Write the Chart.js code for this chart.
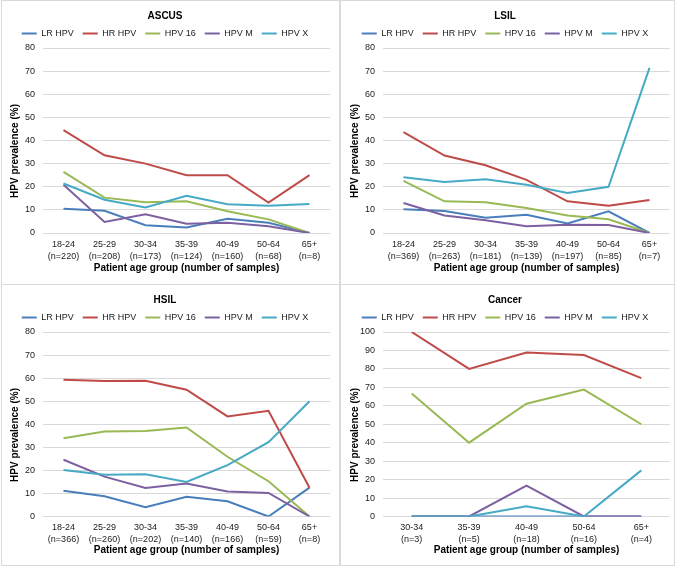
<!DOCTYPE html>
<html>
<head>
<meta charset="utf-8">
<script src="https://cdn.jsdelivr.net/npm/chart.js@4.4.1/dist/chart.umd.min.js"></script>
<style>
    body { margin: 0; background: #fff; }
    #fig { position: relative; width: 680px; height: 569px; }
    #fig canvas { position: absolute; }
    .ln { position: absolute; background: #d9d9d9; z-index: 2; }
</style>
</head>
<body>
<div id="fig">
    <canvas id="chartAscus" width="340" height="284" style="left:0;top:0"></canvas>
    <canvas id="chartLsil" width="336" height="284" style="left:340px;top:0"></canvas>
    <canvas id="chartHsil" width="340" height="282" style="left:0;top:284px"></canvas>
    <canvas id="chartCancer" width="336" height="282" style="left:340px;top:284px"></canvas>
    <div class="ln" style="left:1px;top:0;width:1px;height:566px"></div>
    <div class="ln" style="left:339px;top:0;width:2px;height:566px"></div>
    <div class="ln" style="left:674px;top:0;width:1px;height:566px"></div>
    <div class="ln" style="left:1px;top:0;width:674px;height:1px"></div>
    <div class="ln" style="left:1px;top:284px;width:674px;height:1px"></div>
    <div class="ln" style="left:1px;top:565px;width:674px;height:1px"></div>
</div>
<script>
// series names + colours (Excel 2010 style palette)
const seriesNames = ['LR HPV', 'HR HPV', 'HPV 16', 'HPV M', 'HPV X'];
const seriesColors = ['#4a7ebb', '#be4b48', '#98b954', '#7d60a0', '#46aac5'];

// age groups and sample counts
const ageGroups = ['18-24', '25-29', '30-34', '35-39', '40-49', '50-64', '65+'];
const cancerAgeGroups = ['30-34', '35-39', '40-49', '50-64', '65+'];
const ascusN = [220, 208, 173, 124, 160, 68, 8];
const lsilN = [369, 263, 181, 139, 197, 85, 7];
const hsilN = [366, 260, 202, 140, 166, 59, 8];
const cancerN = [3, 5, 18, 16, 4];

// ASCUS prevalence (%)
const ascusLR = [10.5, 9.6, 3.4, 2.4, 6.2, 4.4, 0];
const ascusHR = [44.5, 33.6, 30.0, 25.0, 25.0, 13.2, 25.0];
const ascus16 = [26.4, 15.3, 13.3, 13.7, 9.4, 5.9, 0];
const ascusM = [20.9, 4.8, 8.1, 4.0, 4.4, 2.9, 0];
const ascusX = [21.4, 14.4, 11.0, 16.1, 12.4, 11.8, 12.5];

// LSIL
const lsilLR = [10.3, 9.5, 6.6, 7.9, 4.1, 9.4, 0];
const lsilHR = [43.6, 33.5, 29.3, 23.0, 13.7, 11.8, 14.3];
const lsil16 = [22.5, 13.7, 13.3, 10.8, 7.6, 5.9, 0];
const lsilM = [13.0, 7.6, 5.5, 2.9, 3.6, 3.5, 0];
const lsilX = [24.1, 22.1, 23.2, 20.9, 17.3, 20.0, 71.4];

// HSIL
const hsilLR = [11.2, 8.8, 4.0, 8.6, 6.6, 0, 12.5];
const hsilHR = [59.3, 58.8, 58.9, 55.0, 43.4, 45.8, 12.5];
const hsil16 = [33.9, 36.9, 37.1, 38.6, 25.9, 15.3, 0];
const hsilM = [24.6, 17.3, 12.4, 14.3, 10.8, 10.2, 0];
const hsilX = [20.2, 18.1, 18.3, 15.0, 22.3, 32.2, 50.0];

// Cancer
const cancerLR = [0, 0, 0, 0, 0];
const cancerHR = [100, 80, 88.9, 87.5, 75];
const cancer16 = [66.7, 40, 61.1, 68.8, 50];
const cancerM = [0, 0, 16.7, 0, 0];
const cancerX = [0, 0, 5.6, 0, 25];

const FONT = '"Liberation Sans", Arial, sans-serif';

// y axis title drawn at a fixed spot (Excel centres it lower than the plot)
const yTitlePlugin = {
    id: 'yTitle',
    afterDraw(chart, args, opts) {
        const ctx = chart.ctx;
        ctx.save();
        ctx.translate(opts.x, opts.y);
        ctx.rotate(-Math.PI / 2);
        ctx.font = 'bold 10px ' + FONT;
        ctx.fillStyle = '#000';
        ctx.textAlign = 'center';
        ctx.textBaseline = 'middle';
        ctx.fillText(opts.text, 0, 0);
        ctx.restore();
    }
};

function makeChart(id, title, groups, counts, series, yMax, padRight, plotBottom) {
    const labels = groups.map((g, i) => [g, '(n=' + counts[i] + ')']);
    const datasets = series.map((vals, i) => ({
        label: seriesNames[i],
        data: vals,
        borderColor: seriesColors[i],
        backgroundColor: seriesColors[i],
        borderWidth: 2,
        pointRadius: 0,
        tension: 0,
        order: series.length - i   // later series drawn on top, like Excel
    }));
    const canvas = document.getElementById(id);
    return new Chart(canvas.getContext('2d'), {
        type: 'line',
        data: { labels, datasets },
        plugins: [yTitlePlugin],
        options: {
            responsive: false,
            animation: false,
            layout: { padding: { left: 0, right: padRight, top: 0, bottom: 0 } },
            plugins: {
                title: {
                    display: true, text: title, color: '#000',
                    font: { family: FONT, size: 10, weight: 'bold', lineHeight: 1.2 },
                    padding: { top: 10, bottom: -2 }
                },
                legend: {
                    labels: {
                        color: '#222', boxWidth: 15, boxHeight: 2, padding: 9,
                        font: { family: FONT, size: 9 },
                        sort: (a, b) => a.datasetIndex - b.datasetIndex,
                        generateLabels: chart => Chart.defaults.plugins.legend.labels.generateLabels(chart)
                            .map(l => Object.assign(l, { fillStyle: l.strokeStyle, lineWidth: 0 }))
                    }
                },
                tooltip: { enabled: false },
                yTitle: { text: 'HPV prevalence (%)', x: 15, y: 151 }
            },
            scales: {
                x: {
                    offset: true,
                    grid: { display: false, drawTicks: false },
                    border: { display: false },
                    ticks: { color: '#222', maxRotation: 0, autoSkip: false, padding: 5,
                        font: { family: FONT, size: 9, lineHeight: 1.34 } },
                    title: { display: true, text: 'Patient age group (number of samples)', color: '#000',
                        font: { family: FONT, size: 10, weight: 'bold', lineHeight: 1.2 },
                        padding: { top: 0, bottom: 10 } },
                    afterFit: s => { s.height = canvas.height - plotBottom; }
                },
                y: {
                    min: 0, max: yMax,
                    grid: { color: '#d9d9d9', drawTicks: false },
                    border: { display: false },
                    ticks: { stepSize: 10, color: '#222', padding: 8, font: { family: FONT, size: 9 } },
                    afterFit: s => { s.width = 43; }
                }
            }
        }
    });
}

makeChart('chartAscus', 'ASCUS', ageGroups, ascusN, [ascusLR, ascusHR, ascus16, ascusM, ascusX], 80, 10, 233);
makeChart('chartLsil', 'LSIL', ageGroups, lsilN, [lsilLR, lsilHR, lsil16, lsilM, lsilX], 80, 6, 233);
makeChart('chartHsil', 'HSIL', ageGroups, hsilN, [hsilLR, hsilHR, hsil16, hsilM, hsilX], 80, 10, 232.5);
makeChart('chartCancer', 'Cancer', cancerAgeGroups, cancerN, [cancerLR, cancerHR, cancer16, cancerM, cancerX], 100, 6, 232.5);
</script>
</body>
</html>
